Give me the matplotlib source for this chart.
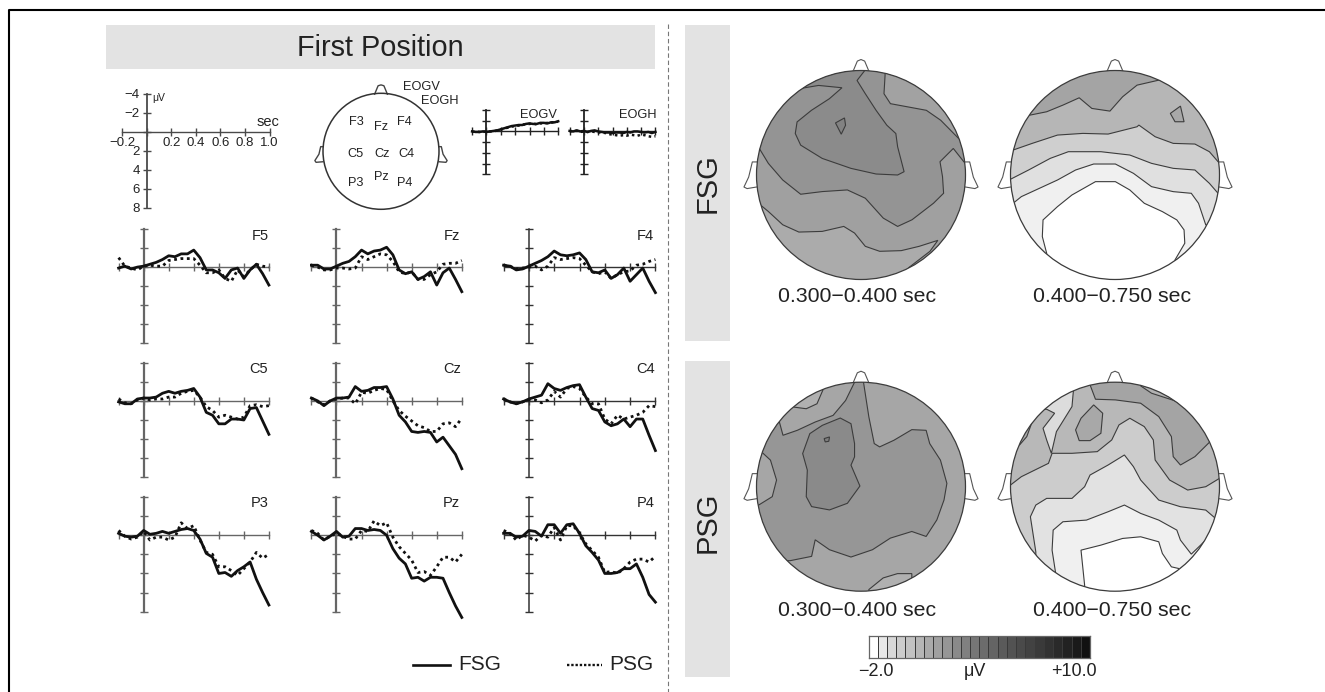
import matplotlib
matplotlib.use('Agg')
import matplotlib.pyplot as plt
from matplotlib.colors import ListedColormap
from matplotlib.lines import Line2D
from matplotlib.patches import Circle, Polygon, Rectangle

plt.rcParams['font.family'] = ['Liberation Sans', 'DejaVu Sans']

W, H = 1325, 692
TXT = '#222222'
AXC = '#4a4a4a'
LINE = '#3c3c3c'

# time grid of the ERP traces (sec)
t_sec = [-0.2, -0.15, -0.1, -0.05, 0, 0.05, 0.1, 0.15, 0.2, 0.25, 0.3, 0.35, 0.4,
         0.45, 0.5, 0.55, 0.6, 0.65, 0.7, 0.75, 0.8, 0.85, 0.9, 0.95, 1.0]
y_ticks = [-4, -2, 0, 2, 4, 6, 8]
x_ticks = [-0.2, 0, 0.2, 0.4, 0.6, 0.8, 1.0]

# ERP values in microvolt
f5_fsg = [0.1, -0.1, 0.2, 0, -0.1, -0.3, -0.5, -0.8, -1.2, -1.1, -1.4, -1.4, -1.8, -1.0, 0.3, 0.3, 0.6, 1.2, 0.3, 0.1, 1.2, 0.3, -0.3, 0.7, 1.9]
f5_psg = [-1.0, -0.1, 0.1, 0.3, -0.1, -0.2, -0.1, -0.1, -0.7, -0.8, -0.9, -0.9, -0.9, -0.2, 0.6, 0.6, 0.3, 1.2, 1.5, 0.3, 1.0, 0.3, -0.3, -0.1, 0.0]
fz_fsg = [-0.2, -0.2, 0.2, 0.2, -0.1, -0.4, -0.6, -1.1, -1.8, -1.4, -1.7, -1.8, -2.1, -1.3, 0.3, 0.7, 0.5, 1.3, 1.0, 0.5, 1.9, 0.6, 0.1, 1.3, 2.6]
fz_psg = [-0.2, 0, 0.3, 0.3, 0.1, 0.1, 0.2, 0.1, -1.1, -0.8, -1.1, -1.4, -1.3, -0.6, 0.5, 0.7, 0.5, 1.3, 1.3, 0.8, 0.5, -0.3, -0.4, -0.4, -0.7]
f4_fsg = [-0.2, -0.1, 0.3, 0.2, -0.1, -0.4, -0.7, -1.1, -1.7, -1.3, -1.2, -1.3, -1.5, -0.8, 0.5, 0.6, 0.3, 1.2, 0.8, 0.1, 1.5, 0.8, 0.1, 1.5, 2.7]
f4_psg = [-0.2, -0.1, 0.2, 0.1, 0, -0.1, 0.3, -0.1, -1, -0.8, -0.9, -1, -0.9, -0.2, 0.5, 0.7, 0.5, 1.2, 0.8, 0.5, 0.4, -0.2, -0.3, -0.6, -0.8]
c5_fsg = [0.1, 0.3, 0.3, -0.2, -0.3, -0.3, -0.4, -0.8, -1, -0.8, -1, -1.1, -1.3, -0.4, 1.2, 1.5, 2.4, 2.4, 1.9, 1.9, 2.0, 0.8, 0.7, 2.1, 3.5]
c5_psg = [-0.2, 0.2, 0.3, -0.1, -0.3, -0.1, -0.2, -0.2, -0.4, -0.4, -0.8, -1, -1.1, -0.4, 0.6, 1, 1.7, 1.5, 1.7, 1.9, 1.7, 0.5, 0.4, 0.6, 0.5]
cz_fsg = [-0.3, 0, 0.5, 0, -0.3, -0.3, -0.4, -1.5, -1, -1.1, -1.4, -1.4, -1.5, -0.2, 1.5, 2.2, 3.2, 3.3, 3.2, 3.3, 4.3, 3.8, 4.7, 5.6, 7.1]
cz_psg = [-0.3, 0.1, 0.4, 0, -0.2, -0.3, -0.3, 0.3, -0.9, -0.8, -1.1, -1.3, -1.2, 0, 1.0, 1.6, 2.1, 2.6, 2.8, 3.2, 3.2, 2.4, 2.3, 2.7, 1.8]
c4_fsg = [-0.2, 0.1, 0.3, 0.1, -0.2, -0.4, -0.6, -1.8, -1.3, -1.1, -1.4, -1.6, -1.7, -0.4, 0.8, 1.0, 2.2, 2.6, 2.4, 1.9, 2.7, 1.9, 1.9, 3.6, 5.2]
c4_psg = [-0.2, 0.1, 0.3, 0.1, -0.1, -0.1, 0.2, -0.1, -1, -0.4, -1.3, -1.5, -1.3, -0.4, 0.3, 0.3, 1.9, 2.4, 1.5, 1.9, 1.7, 1.5, 1.2, 0.5, 0.6]
p3_fsg = [-0.2, 0.1, 0.2, 0.1, -0.5, -0.1, -0.2, -0.4, -0.2, -0.4, -0.6, -0.7, -0.5, 0.4, 1.9, 2.3, 4, 3.9, 4.3, 3.7, 3.3, 2.8, 4.6, 6, 7.3]
p3_psg = [-0.5, 0.1, 0.4, 0.2, -0.4, 0.5, 0.2, 0.2, 0.5, 0.2, -1.3, -0.7, -1, 0.5, 1.8, 2, 3.3, 3.3, 3.7, 4.2, 3.5, 2.8, 1.8, 2.4, 2]
pz_fsg = [-0.4, 0, 0.5, 0.1, -0.4, 0.2, 0.1, -0.7, -0.7, -0.5, -0.6, -0.5, 0, 1.4, 2.4, 3, 4.5, 4.4, 4.8, 4.4, 4.4, 4.5, 6, 7.4, 8.6]
pz_psg = [-0.5, -0.2, 0.5, 0.1, -0.2, 0.1, 0.4, 0.4, -0.5, -0.4, -1.5, -1, -1.3, 0.2, 1.2, 1.9, 2.6, 3.9, 3.8, 4.2, 3.3, 2.3, 2.3, 2.8, 2.0]
p4_fsg = [-0.2, -0.2, 0.2, 0.1, -0.5, -0.4, 0.1, -1.1, -1.1, -0.2, -1.1, -1.2, -0.2, 1.1, 1.8, 2.6, 4, 4, 3.9, 3.5, 3.5, 3, 4.4, 6.2, 7]
p4_psg = [-0.5, -0.2, 0.5, 0, 0.2, 0.6, 0, 0.2, -0.8, 0.5, -1, -1, -0.2, 0.9, 1.6, 2.3, 3.9, 3.8, 4, 3.5, 2.8, 2.5, 2.5, 2.8, 2.2]
eogv_fsg = [0, 0.1, 0.1, 0, 0.1, 0, -0.1, -0.2, -0.4, -0.6, -0.8, -1.0, -1.1, -1.2, -1.2, -1.4, -1.5, -1.4, -1.4, -1.6, -1.6, -1.5, -1.7, -1.7, -1.9]
eogv_psg = [0.1, 0, 0.1, 0.1, 0, 0, 0, -0.2, -0.3, -0.6, -0.7, -0.9, -1.0, -1.1, -1.3, -1.3, -1.4, -1.5, -1.3, -1.5, -1.5, -1.6, -1.6, -1.8, -1.8]
eogh_fsg = [-0.1, 0, -0.2, 0, -0.1, 0.1, -0.1, -0.2, 0, 0.1, 0.2, 0.2, 0.3, 0.2, 0.2, 0.3, 0.1, 0.2, 0, 0, 0.1, 0.2, 0.1, 0.3, 0.1]
eogh_psg = [0, -0.1, -0.1, 0.1, 0, 0.1, 0, 0.1, 0.2, 0.2, 0.3, 0.5, 0.6, 0.7, 0.8, 0.7, 0.8, 0.6, 0.7, 0.8, 0.6, 0.7, 0.9, 1.0, 0.9]

# contour outlines, as read in the crops: (x, y) with y down, then scaled by head size
map1_centre = (508, 435, 291, 315)
map2_centre = (1219, 435, 289, 314)
map3_centre = (508, 410, 292, 315)
map4_centre = (1219, 410, 289, 313)

map1_regions = [
    ('#a0a0a0', [(222, 520), (250, 545), (290, 585), (335, 607), (400, 605), (460, 590), (490, 610), (520, 650), (560, 665), (620, 663), (670, 650), (722, 632), (700, 665), (640, 715), (900, 700), (900, 100), (100, 100), (100, 520)]),
    ('#949494', [(222, 350), (250, 400), (290, 450), (340, 493), (400, 485), (470, 480), (520, 505), (570, 565), (610, 590), (650, 570), (710, 520), (738, 490), (735, 440), (728, 395), (765, 355), (798, 400), (900, 400), (900, 100), (100, 100), (100, 350)]),
    ('#a2a2a2', [(575, 135), (572, 190), (590, 220), (640, 230), (690, 240), (730, 270), (780, 325), (900, 325), (900, 60), (575, 60)]),
    ('#8b8b8b', [(335, 175), (390, 165), (455, 172), (420, 205), (370, 240), (330, 275), (325, 310), (340, 345), (400, 385), (480, 415), (550, 432), (610, 435), (628, 425), (610, 350), (605, 310), (580, 285), (550, 240), (520, 190), (497, 150), (520, 118), (520, 50), (250, 50), (250, 175)]),
    ('#828282', [(437, 278), (462, 263), (465, 285), (453, 312)]),
]
map2_regions = [
    ('#b6b6b6', [(975, 257), (1030, 245), (1075, 225), (1120, 203), (1155, 235), (1205, 243), (1240, 200), (1280, 165), (1340, 150), (1500, 150), (1560, 800), (900, 800), (900, 257)]),
    ('#a8a8a8', [(1372, 250), (1400, 228), (1410, 275), (1385, 275)]),
    ('#cfcfcf', [(932, 362), (990, 340), (1060, 315), (1130, 310), (1200, 312), (1280, 290), (1285, 285), (1330, 320), (1380, 340), (1440, 342), (1480, 365), (1508, 400), (1600, 400), (1600, 800), (850, 800), (850, 362)]),
    ('#e0e0e0', [(926, 450), (980, 420), (1040, 385), (1090, 365), (1180, 365), (1260, 375), (1320, 400), (1380, 415), (1440, 420), (1480, 460), (1508, 495), (1650, 505), (1650, 800), (850, 800), (850, 450)]),
    ('#f0f0f0', [(935, 522), (960, 500), (1000, 480), (1060, 450), (1110, 420), (1160, 402), (1220, 402), (1270, 430), (1320, 470), (1380, 485), (1430, 490), (1450, 520), (1470, 585), (1600, 585), (1600, 800), (850, 800), (850, 522)]),
    ('#ffffff', [(1030, 670), (1018, 620), (1020, 570), (1060, 530), (1100, 495), (1165, 455), (1220, 455), (1260, 480), (1300, 520), (1350, 545), (1390, 570), (1410, 600), (1412, 640), (1385, 690), (1385, 800), (1030, 800)]),
]
map3_regions = [
    ('#969696', [(310, 633), (370, 620), (380, 570), (420, 600), (480, 622), (540, 600), (590, 565), (650, 545), (690, 560), (720, 510), (740, 450), (748, 400), (730, 330), (700, 280), (690, 240), (650, 238), (600, 270), (560, 290), (545, 280), (530, 200), (515, 95), (500, 60), (490, 95), (465, 150), (430, 195), (380, 215), (330, 240), (290, 255), (280, 215), (150, 215), (150, 633)]),
    ('#a6a6a6', [(230, 305), (255, 330), (272, 390), (260, 440), (218, 468), (150, 468), (150, 305)]),
    ('#b0b0b0', [(320, 170), (355, 175), (385, 160), (405, 110), (405, 60), (320, 60)]),
    ('#b0b0b0', [(530, 720), (570, 685), (610, 672), (650, 672), (650, 780), (530, 780)]),
    ('#8a8a8a', [(365, 250), (400, 225), (450, 203), (480, 220), (490, 280), (490, 320), (480, 345), (505, 408), (470, 460), (420, 480), (370, 470), (355, 440), (358, 360), (345, 310)]),
    ('#808080', [(405, 265), (420, 260), (418, 273), (408, 275)]),
]
map4_regions = [
    ('#a4a4a4', [(1150, 105), (1165, 148), (1220, 150), (1290, 160), (1340, 200), (1375, 260), (1380, 320), (1400, 345), (1440, 320), (1482, 275), (1600, 275), (1600, 30), (1150, 30)]),
    ('#b2b2b2', [(1290, 108), (1320, 130), (1400, 158), (1400, 60), (1290, 60)]),
    ('#a8a8a8', [(1110, 240), (1125, 205), (1160, 165), (1185, 190), (1180, 250), (1150, 272), (1120, 272)]),
    ('#acacac', [(955, 285), (975, 260), (990, 215), (930, 215), (900, 285)]),
    ('#cccccc', [(930, 405), (960, 380), (1035, 340), (1045, 310), (1100, 310), (1170, 305), (1210, 270), (1230, 225), (1260, 205), (1300, 230), (1325, 270), (1330, 330), (1370, 390), (1420, 420), (1470, 410), (1508, 385), (1650, 385), (1650, 800), (850, 800), (850, 405)]),
    ('#dcdcdc', [(1030, 178), (1052, 190), (1020, 235), (1030, 270), (1043, 310), (1057, 245), (1100, 170), (1105, 110), (1105, 50), (1000, 50), (1000, 178)]),
    ('#e2e2e2', [(1000, 605), (985, 500), (1000, 465), (1030, 445), (1100, 445), (1135, 410), (1150, 375), (1200, 345), (1245, 315), (1270, 350), (1290, 390), (1340, 450), (1400, 470), (1470, 480), (1497, 505), (1650, 505), (1650, 800), (1000, 800)]),
    ('#f0f0f0', [(1055, 670), (1045, 600), (1048, 540), (1075, 515), (1140, 510), (1200, 485), (1245, 465), (1290, 490), (1340, 510), (1390, 540), (1400, 570), (1430, 612), (1470, 570), (1600, 570), (1600, 800), (1055, 800)]),
    ('#ffffff', [(1135, 705), (1125, 600), (1180, 585), (1240, 565), (1290, 560), (1340, 575), (1350, 610), (1375, 650), (1395, 655), (1395, 800), (1135, 800)]),
]

nose_x = [-0.075, -0.035, 0, 0.035, 0.075]
nose_y = [0.995, 1.09, 1.105, 1.09, 0.995]
ear_x = [1.0, 1.04, 1.075, 1.12, 1.09, 1.0]
ear_y = [0.125, 0.125, -0.02, -0.115, -0.13, -0.115]
site_nose_x = [-0.11, -0.05, 0, 0.05, 0.11]
site_nose_y = [0.985, 1.13, 1.145, 1.13, 0.985]
site_ear_x = [1.0, 1.04, 1.07, 1.14, 1.12, 1.0]
site_ear_y = [0.08, 0.08, -0.05, -0.16, -0.19, -0.18]

# colour scale
scale_edges = [-2.0, -1.5, -1.0, -0.5, 0, 0.5, 1.0, 1.5, 2.0, 2.5, 3.0, 3.5, 4.0, 4.5, 5.0, 5.5, 6.0, 6.5, 7.0, 7.5, 8.0, 8.5, 9.0, 9.5, 10.0]
scale_values = [-1.75, -1.25, -0.75, -0.25, 0.25, 0.75, 1.25, 1.75, 2.25, 2.75, 3.25, 3.75, 4.25, 4.75, 5.25, 5.75, 6.25, 6.75, 7.25, 7.75, 8.25, 8.75, 9.25, 9.75]
scale_colors = ['#ffffff', '#e8e8e8', '#d8d8d8', '#cccccc', '#c2c2c2', '#b6b6b6', '#aaaaaa', '#a0a0a0', '#969696', '#8a8a8a', '#808080', '#767676',
                '#6c6c6c', '#646464', '#5a5a5a', '#525252', '#4a4a4a', '#424242', '#3a3a3a', '#323232', '#2a2a2a', '#222222', '#1a1a1a', '#111111']


def px_axes(left, right, top, bottom):
    return fig.add_axes([left / W, 1 - bottom / H, (right - left) / W, (bottom - top) / H], facecolor='none')


def erp_axes(left, right, top, bottom, lw=1.3, color=AXC):
    ax = px_axes(left, right, top, bottom)
    ax.set_xlim(-0.2, 1.0)
    ax.set_ylim(8, -4)
    ax.spines['left'].set_position(('data', 0))
    ax.spines['bottom'].set_position(('data', 0))
    ax.spines['top'].set_visible(False)
    ax.spines['right'].set_visible(False)
    ax.spines['left'].set_color(color)
    ax.spines['bottom'].set_color(color)
    ax.spines['left'].set_linewidth(lw)
    ax.spines['bottom'].set_linewidth(1.0)
    ax.set_xticks(x_ticks)
    ax.set_yticks(y_ticks)
    ax.set_xticklabels([])
    ax.set_yticklabels([])
    ax.tick_params(direction='inout', length=6, width=1.0, color=color)
    return ax


def erp(left, right, top, bottom, fsg, psg, lw=2.0, axis_lw=1.6, axis_color='#666666'):
    ax = erp_axes(left, right, top, bottom, axis_lw, axis_color)
    ax.plot(t_sec, psg, color='#111111', lw=lw, ls=(0, (1, 1.3)), clip_on=False, zorder=3)
    ax.plot(t_sec, fsg, color='#111111', lw=lw, clip_on=False, zorder=4, solid_joinstyle='round')
    return ax


def topomap(cx, cy, r, centre, regions, base):
    pad = 1.3
    ax = px_axes(cx - r * pad, cx + r * pad, cy - r * pad, cy + r * pad)
    ax.set_xlim(-pad, pad)
    ax.set_ylim(-pad, pad)
    ax.axis('off')
    ax.add_patch(Circle((0, 0), 1, facecolor=base, edgecolor='none', zorder=1))
    ax.plot(nose_x, nose_y, color='#555555', lw=0.8, zorder=0)
    ax.plot(ear_x, ear_y, color='#555555', lw=0.8, zorder=0)
    ax.plot([-v for v in ear_x], ear_y, color='#555555', lw=0.8, zorder=0)
    clip = Circle((0, 0), 1, transform=ax.transData)
    zx, zy, rx, ry = centre
    for colour, pts in regions:
        xy = [((px - zx) / rx, (zy - py) / ry) for px, py in pts]
        poly = Polygon(xy, closed=True, facecolor=colour, edgecolor=LINE, lw=0.8, zorder=2)
        ax.add_patch(poly)
        poly.set_clip_path(clip)
    ax.add_patch(Circle((0, 0), 1, fill=False, edgecolor=LINE, lw=0.9, zorder=3))
    return ax


fig = plt.figure(figsize=(W / 100, H / 100), dpi=100)

# page layer in pixel coordinates: panels, frame, labels
page = fig.add_axes([0, 0, 1, 1])
page.set_xlim(0, W)
page.set_ylim(H, 0)
page.axis('off')

page.add_patch(Rectangle((106, 25), 549, 44, color='#e3e3e3', lw=0))
page.add_patch(Rectangle((685, 25), 45, 316, color='#e3e3e3', lw=0))
page.add_patch(Rectangle((685, 361), 45, 316, color='#e3e3e3', lw=0))
page.plot([668, 668], [24, 692], color='#777777', lw=0.8, ls=(0, (4, 2.5)))
page.plot([9, 9, 1325], [692, 10, 10], color='black', lw=1.5)

page.text(380, 48, 'First Position', fontsize=20.8, color=TXT, ha='center', va='center')
page.text(708, 183, 'FSG', fontsize=21, color=TXT, rotation=90, ha='center', va='center')
page.text(708, 522, 'PSG', fontsize=21, color=TXT, rotation=90, ha='center', va='center')

for x, y, s in [(857, 297, '0.300\u22120.400 sec'), (1112, 297, '0.400\u22120.750 sec'),
                (857, 610, '0.300\u22120.400 sec'), (1112, 610, '0.400\u22120.750 sec')]:
    page.text(x, y, s, fontsize=15.3, color=TXT, ha='center', va='center')

for x, y, s in [(356, 121.7, 'F3'), (381, 127, 'Fz'), (404, 121.7, 'F4'),
                (355.4, 154, 'C5'), (382, 154, 'Cz'), (406, 154, 'C4'),
                (356, 183, 'P3'), (381, 177, 'Pz'), (405, 183, 'P4'),
                (421.4, 87.3, 'EOGV'), (440, 100.7, 'EOGH'),
                (538.6, 115, 'EOGV'), (637.5, 115, 'EOGH')]:
    page.text(x, y, s, fontsize=9.2, color=TXT, ha='center', va='center')
for x, y, s in [(260, 235.7, 'F5'), (451.8, 235.7, 'Fz'), (645.7, 235.7, 'F4'),
                (259, 369, 'C5'), (451.8, 369, 'Cz'), (645.7, 369, 'C4'),
                (260, 502.7, 'P3'), (451.8, 502.7, 'Pz'), (645.7, 502.7, 'P4'),
                (268, 122, 'sec')]:
    page.text(x, y, s, fontsize=10.5, color=TXT, ha='center', va='center')
page.text(159, 97.7, '\u03bcV', fontsize=7.5, color=TXT, ha='center', va='center')

# legend
page.add_line(Line2D([412.5, 450], [665, 665], color='#111111', lw=1.9))
page.add_line(Line2D([567, 602], [665, 665], color='#111111', lw=1.7, ls=(0, (1, 0.8))))
page.text(458, 665, 'FSG', fontsize=15, color=TXT, ha='left', va='center')
page.text(609, 665, 'PSG', fontsize=15, color=TXT, ha='left', va='center')

# scale axes
ax = erp_axes(122.1, 269.6, 94, 207.7)
ax.set_xticklabels(['\u22120.2', '', '0.2', '0.4', '0.6', '0.8', '1.0'], fontsize=9.5, color=TXT)
ax.set_yticklabels(['\u22124', '\u22122', '', '2', '4', '6', '8'], fontsize=9.5, color=TXT)
ax.tick_params(axis='y', pad=2)
ax.tick_params(axis='x', pad=1)

# head with electrode sites
hd = px_axes(381 - 75, 381 + 75, 151.3 - 75, 151.3 + 75)
hd.set_xlim(-75 / 58, 75 / 58)
hd.set_ylim(-75 / 58, 75 / 58)
hd.axis('off')
hd.plot(site_nose_x, site_nose_y, color='#444444', lw=1.0)
hd.plot(site_ear_x, site_ear_y, color='#444444', lw=1.0)
hd.plot([-v for v in site_ear_x], site_ear_y, color='#444444', lw=1.0)
hd.add_patch(Circle((0, 0), 1, fill=False, edgecolor='#333333', lw=1.1, zorder=2))

# EOG
erp(472.1, 558.2, 110, 174.3, eogv_fsg, eogv_psg, lw=1.8, axis_lw=1.3, axis_color='#222222')
erp(569.6, 655.4, 110, 174.3, eogh_fsg, eogh_psg, lw=1.8, axis_lw=1.3, axis_color='#222222')

# ERP grid
erp(118.6, 268.9, 229.3, 342.7, f5_fsg, f5_psg)
erp(311.4, 461.8, 229.3, 342.7, fz_fsg, fz_psg)
erp(503.6, 655.4, 229.3, 342.7, f4_fsg, f4_psg, axis_lw=1.1, axis_color='#333333')
erp(118.6, 268.9, 362.7, 477.3, c5_fsg, c5_psg)
erp(311.4, 461.8, 362.7, 477.3, cz_fsg, cz_psg)
erp(503.6, 655.4, 362.7, 477.3, c4_fsg, c4_psg, axis_lw=1.1, axis_color='#333333')
erp(118.6, 268.9, 497, 611.7, p3_fsg, p3_psg)
erp(311.4, 461.8, 497, 611.7, pz_fsg, pz_psg)
erp(503.6, 655.4, 497, 611.7, p4_fsg, p4_psg, axis_lw=1.1, axis_color='#333333')

# topographies
topomap(861, 175, 104.5, map1_centre, map1_regions, '#ababab')
topomap(1115, 175, 104.5, map2_centre, map2_regions, '#a4a4a4')
topomap(861, 486.7, 104.5, map3_centre, map3_regions, '#a6a6a6')
topomap(1115, 486.7, 104.5, map4_centre, map4_regions, '#b8b8b8')

# colour scale bar
cb = px_axes(868.5, 1090, 636, 658)
cb.pcolormesh(scale_edges, [0, 1], [scale_values], cmap=ListedColormap(scale_colors), vmin=-2, vmax=10,
              edgecolors='#3a3a3a', linewidth=0.7)
cb.set_xticks([])
cb.set_yticks([])
for s in cb.spines.values():
    s.set_color('#666666')
    s.set_linewidth(0.9)

page.text(876, 671.5, '\u22122.0', fontsize=13, color=TXT, ha='center', va='center')
page.text(974.6, 671.5, '\u03bcV', fontsize=13, color=TXT, ha='center', va='center')
page.text(1074, 671.5, '+10.0', fontsize=13, color=TXT, ha='center', va='center')

fig.savefig('out.png', dpi=100)
